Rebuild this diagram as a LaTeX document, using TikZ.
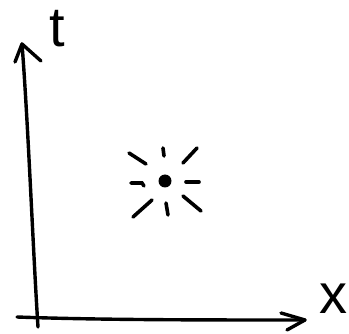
\documentclass[tikz,border=0pt]{standalone}
\usepackage{fontspec}
\setmainfont{Liberation Sans}
\begin{document}
\begin{tikzpicture}[x=1pt,y=-1pt,
  ink/.style={line width=3.4pt,line cap=round,line join=round,black},
  ray/.style={line width=3.6pt,line cap=round,black},
  lab/.style={inner sep=0pt,font=\fontsize{56}{56}\selectfont}]
\useasboundingbox (0,0) rectangle (349,334);
% axes
\coordinate (tbot) at (38,327);
\coordinate (ttip) at (22,44);
\coordinate (xstart) at (17,317);
\coordinate (xtip) at (305,320);
\draw[ink] (tbot) .. controls (33,250) and (28,120) .. (ttip);
\draw[ink] (15,62) -- (ttip) -- (41,61);
\draw[ink] (xstart) .. controls (100,320) and (200,320) .. (xtip);
\draw[ink] (281,313) -- (xtip) -- (287,330);
% labels
\node[lab] (t) at (57,29) {t};
\node[lab] (x) at (333,299) {x};
% event
\fill (165,181) circle (6.5);
\draw[ray] (129,153) -- (146,164);
\draw[ray] (163,148) -- (164,156);
\draw[ray] (197,148) -- (183,163);
\draw[ray] (131,183) -- (142,183) -- (144,186);
\draw[ray] (186,182) -- (199,182);
\draw[ray] (152,200) -- (133,217);
\draw[ray] (166,203) -- (168,215);
\draw[ray] (183,196) -- (201,211);
\end{tikzpicture}
\end{document}
